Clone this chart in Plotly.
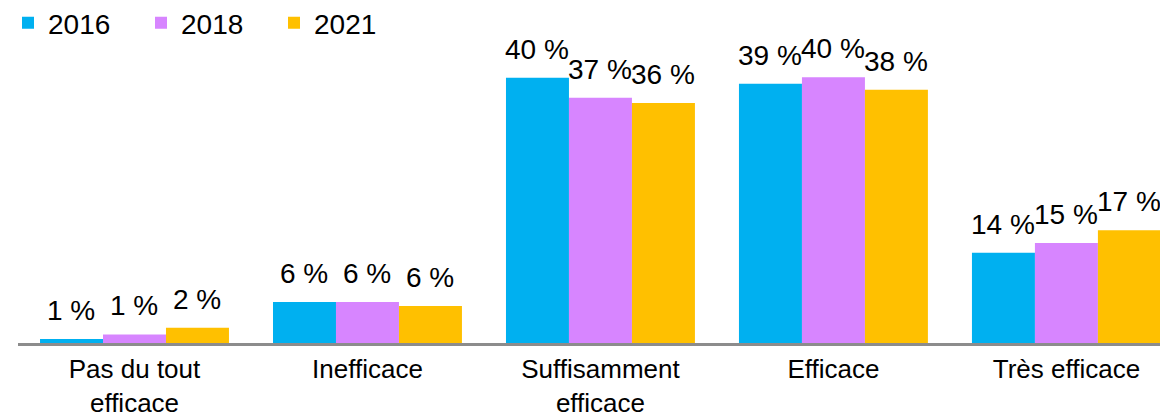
import plotly.graph_objects as go

categories = ["Pas du tout<br>efficace", "Inefficace", "Suffisamment<br>efficace", "Efficace", "Très efficace"]
years = ["2016", "2018", "2021"]
values_2016 = [0.6, 6.2, 40.0, 39.1, 13.6]
values_2018 = [1.3, 6.2, 37.0, 40.1, 15.1]
values_2021 = [2.3, 5.6, 36.2, 38.2, 17.0]
labels_2016 = ["1 %", "6 %", "40 %", "39 %", "14 %"]
labels_2018 = ["1 %", "6 %", "37 %", "40 %", "15 %"]
labels_2021 = ["2 %", "6 %", "36 %", "38 %", "17 %"]
colors = ["#00B0F0", "#D785FF", "#FFC000"]

fig = go.Figure()
series = zip(years, [values_2016, values_2018, values_2021],
             [labels_2016, labels_2018, labels_2021], colors)
for i, (year, vals, labs, col) in enumerate(series):
    fig.add_trace(go.Bar(
        x=categories, y=vals, name=year, marker_color=col,
        marker_line_width=0, cliponaxis=False,
    ))
    # value labels sit a bit higher above the bars than plotly's outside text
    for cat, v, lab in zip(categories, vals, labs):
        fig.add_annotation(x=cat, y=v, text=lab, showarrow=False,
                           xshift=(i - 1) * 63, yshift=11, yanchor="bottom",
                           font=dict(size=28, color="black"))

fig.update_layout(
    width=1160, height=408,
    barmode="group", bargap=0.189, bargroupgap=0,
    plot_bgcolor="white", paper_bgcolor="white",
    font=dict(family="Liberation Sans, Arial, sans-serif", size=26, color="black"),
    margin=dict(l=10, r=0, t=42, b=73, autoexpand=False),
    legend=dict(orientation="h", x=-0.013, y=1.177, xref="container", yref="paper",
                xanchor="left", yanchor="top",
                font=dict(size=28), entrywidth=88, itemwidth=30),
    showlegend=True,
)
fig.update_yaxes(range=[0, 44.2], visible=False, showgrid=False)
# last group runs slightly past the right edge, as in the original
fig.update_xaxes(range=[-0.5, 4.436], showline=True, linecolor="#8C8C8C", linewidth=3,
                 ticks="", tickfont=dict(size=26), ticklabelstandoff=1, automargin=False)

fig.write_html("out.html")
